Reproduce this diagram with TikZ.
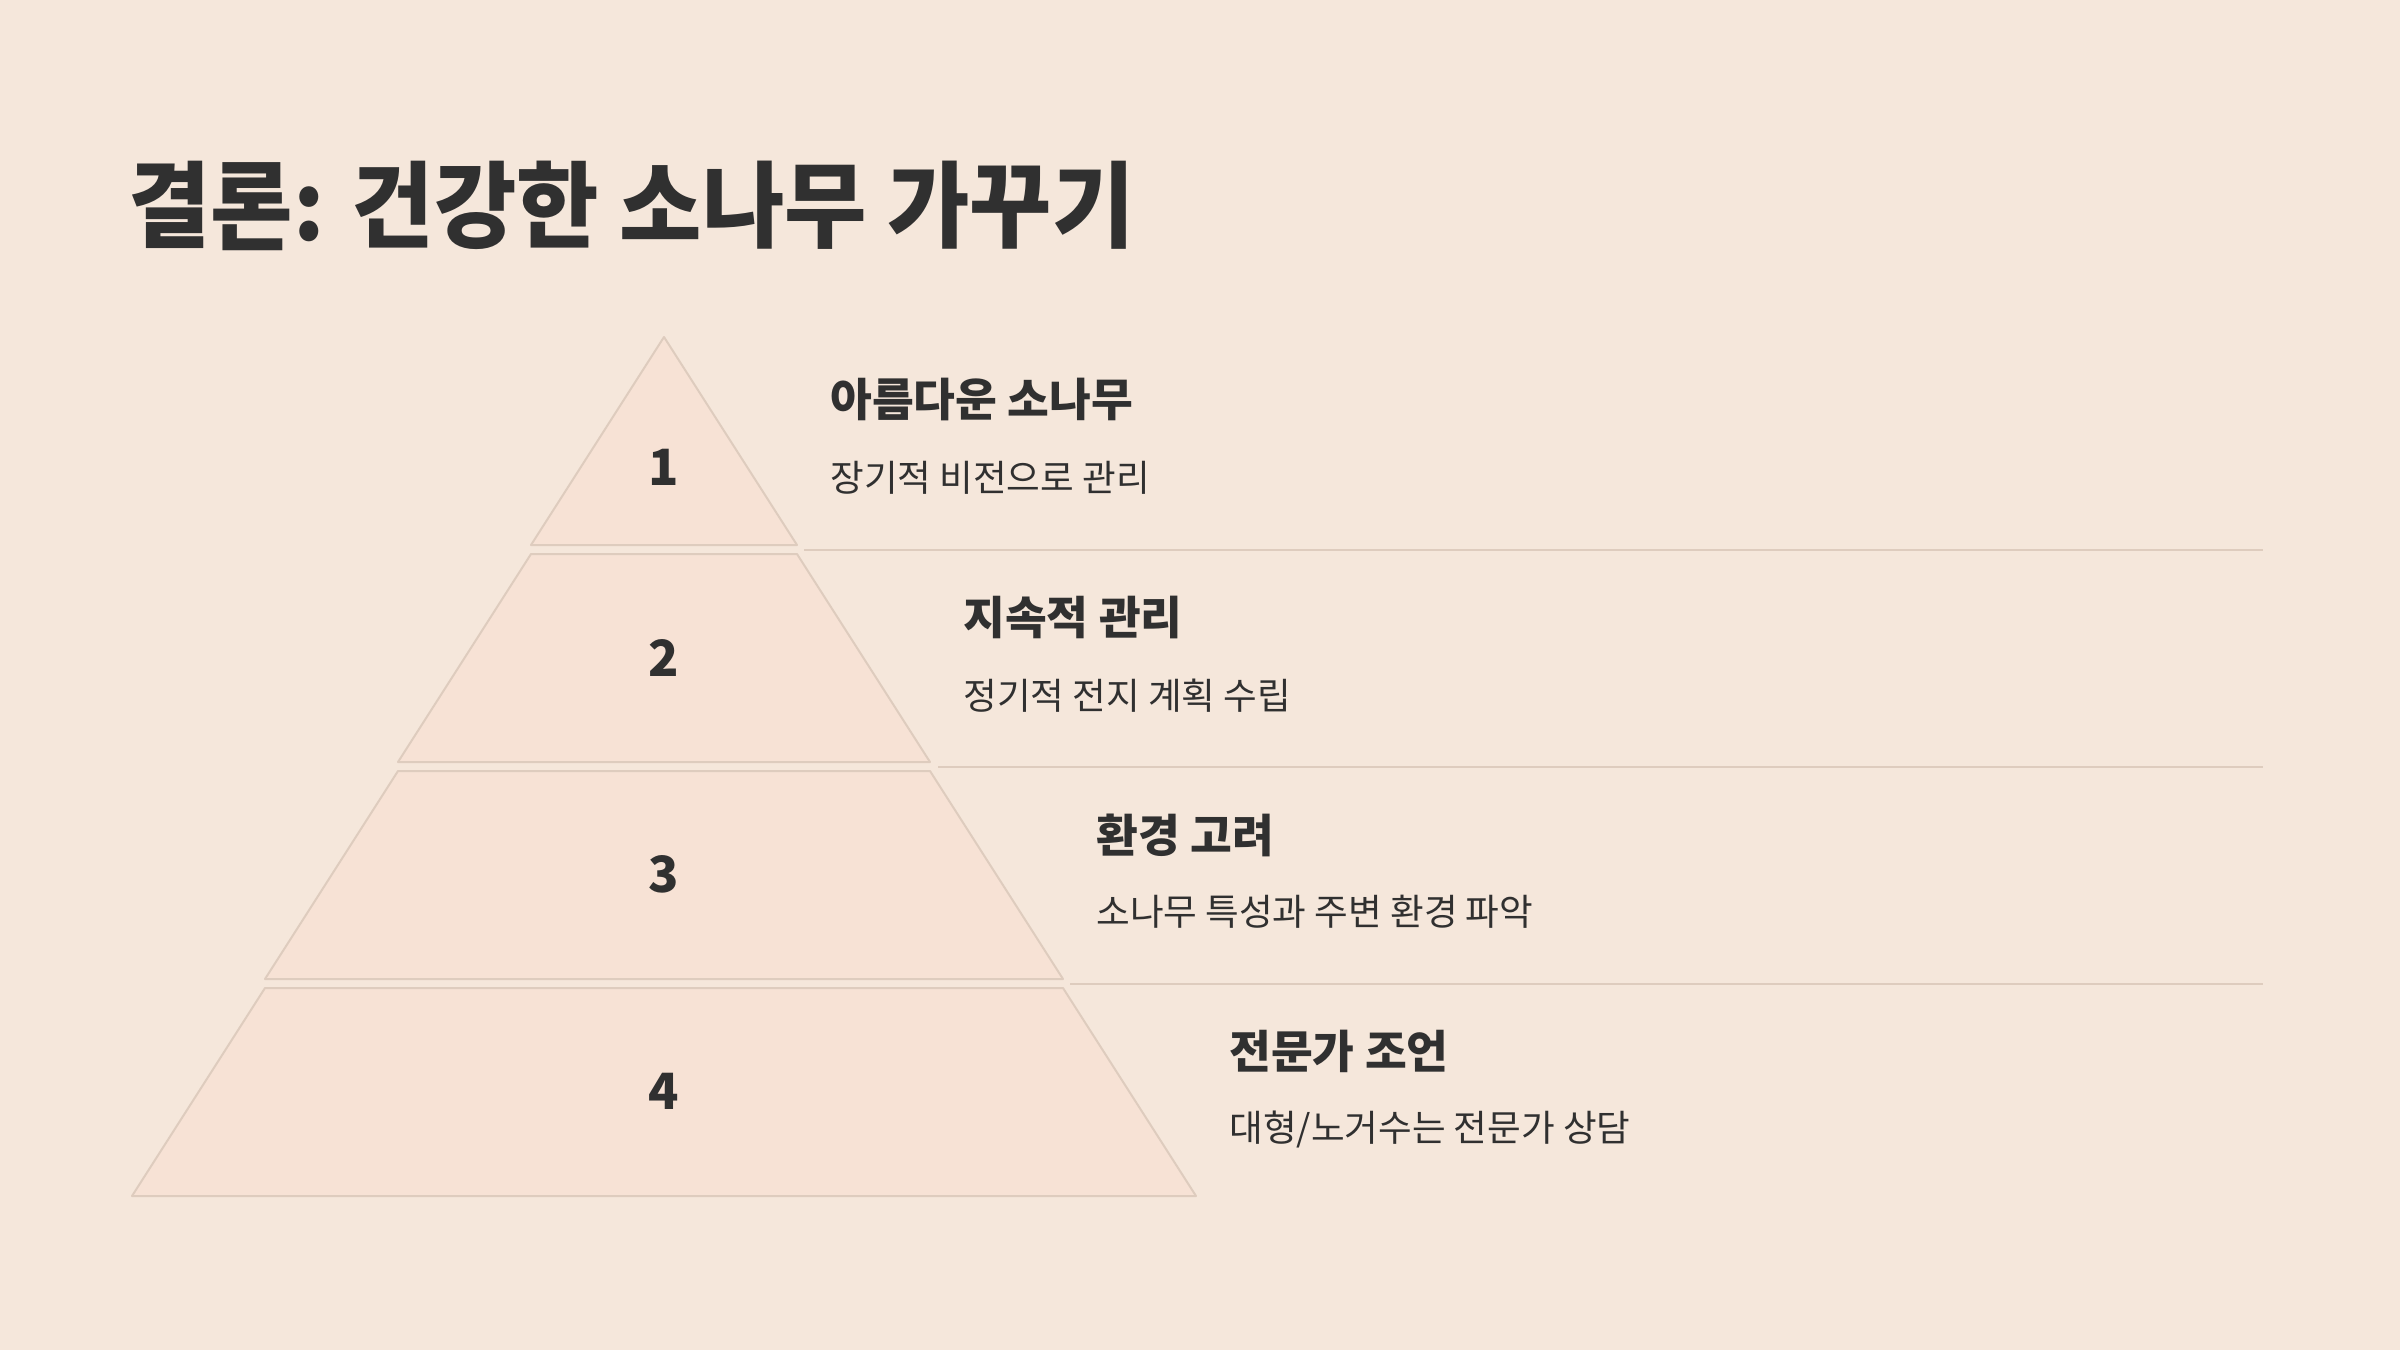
\documentclass[tikz,border=0pt]{standalone}
\usepackage{fontspec}
\setmainfont{Noto Sans CJK KR}
\newfontfamily\titlefont{Noto Sans CJK KR}[FakeStretch=0.953]
\definecolor{bg}{RGB}{245,231,219}
\definecolor{tierfill}{RGB}{247,226,213}
\definecolor{tierline}{RGB}{222,204,190}
\definecolor{ink}{RGB}{48,48,48}
\tikzset{
  tier/.style={fill=tierfill, draw=tierline, line width=1pt, line join=round},
  sep/.style={draw=tierline, line width=1.25pt},
  num/.style={font=\fontsize{25pt}{30pt}\selectfont\bfseries, text=ink, inner sep=0pt},
  head/.style={font=\fontsize{22.7pt}{27pt}\selectfont\bfseries, text=ink, anchor=west, inner sep=0pt},
  sub/.style={font=\fontsize{18.3pt}{22pt}\selectfont, text=ink, anchor=west, inner sep=0pt},
  ttl/.style={font=\titlefont\fontsize{47pt}{56pt}\selectfont\bfseries, text=ink, anchor=west, inner sep=0pt}
}
\begin{document}
\begin{tikzpicture}[x=0.5pt, y=-0.5pt]
\fill[bg] (0,0) rectangle (2400,1350);
\useasboundingbox (0,0) rectangle (2400,1350);

\node[ttl] (title) at (128,206) {결론: 건강한 소나무 가꾸기};

% tiers
\draw[tier] (664,337) -- (797,545) -- (531,545) -- cycle;
\draw[tier] (531,554) -- (797,554) -- (930,762) -- (398,762) -- cycle;
\draw[tier] (398,771) -- (930,771) -- (1063,979) -- (265,979) -- cycle;
\draw[tier] (265,988) -- (1063,988) -- (1196,1196) -- (132,1196) -- cycle;

% separators
\coordinate (s1a) at (804,550); \coordinate (s1b) at (2263,550);
\coordinate (s2a) at (938,767); \coordinate (s2b) at (2263,767);
\coordinate (s3a) at (1070,984); \coordinate (s3b) at (2263,984);
\draw[sep] (s1a) -- (s1b);
\draw[sep] (s2a) -- (s2b);
\draw[sep] (s3a) -- (s3b);

% numbers
\node[num] (n1) at (664,467) {1};
\node[num] (n2) at (664,658) {2};
\node[num] (n3) at (664,874) {3};
\node[num] (n4) at (664,1091) {4};

% texts
\node[head] (h1) at (830,400) {아름다운 소나무};
\node[sub]  (d1) at (830,478) {장기적 비전으로 관리};
\node[head] (h2) at (963,618) {지속적 관리};
\node[sub]  (d2) at (963,696) {정기적 전지 계획 수립};
\node[head] (h3) at (1096,835) {환경 고려};
\node[sub]  (d3) at (1096,912) {소나무 특성과 주변 환경 파악};
\node[head] (h4) at (1229,1051) {전문가 조언};
\node[sub]  (d4) at (1229,1129) {대형/노거수는 전문가 상담};
\end{tikzpicture}
\end{document}
